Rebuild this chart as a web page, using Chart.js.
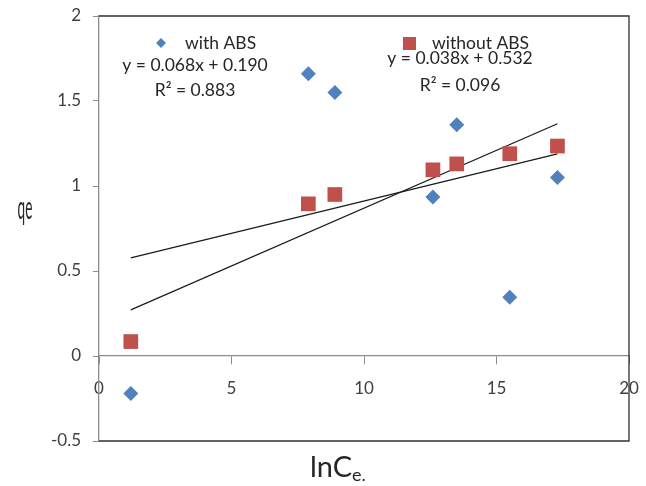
<!DOCTYPE html>
<html>
<head>
<meta charset="utf-8">
<script src="https://cdn.jsdelivr.net/npm/chart.js@4/dist/chart.umd.min.js"></script>
<style>
    html, body { margin: 0; padding: 0; background: #fff; }
    #wrap { width: 646px; height: 486px; }
</style>
</head>
<body>
<div id="wrap"><canvas id="chart" width="646" height="486"></canvas></div>
<script>
// data
const lnCe = [1.2, 7.9, 8.9, 12.6, 13.5, 15.5, 17.3];
const qeWithAbs = [-0.22, 1.66, 1.55, 0.935, 1.36, 0.345, 1.05];
const qeWithoutAbs = [0.085, 0.895, 0.95, 1.095, 1.13, 1.19, 1.235];

// trendline equations as printed on the chart
const slopes = [0.068, 0.038];
const intercepts = [0.190, 0.532];
const eqLabels = ['y = 0.068x + 0.190', 'y = 0.038x + 0.532'];
const r2Labels = ['R\u00B2 = 0.883', 'R\u00B2 = 0.096'];
const seriesNames = ['with ABS', 'without ABS'];

const xTicks = [0, 5, 10, 15, 20];
const yTicks = [-0.5, 0, 0.5, 1, 1.5, 2];

const BLUE = '#4F81BD';
const RED = '#C0504D';
const FONT = 'Lato, "Open Sans", sans-serif';

function points(ys) {
    return lnCe.map((x, i) => ({ x: x, y: ys[i] }));
}

function trend(k) {
    const x0 = Math.min(...lnCe), x1 = Math.max(...lnCe);
    return [
        { x: x0, y: slopes[k] * x0 + intercepts[k] },
        { x: x1, y: slopes[k] * x1 + intercepts[k] }
    ];
}

// frame, legend text, equations and axis titles
const decorations = {
    id: 'decorations',
    afterDraw(chart) {
        const ctx = chart.ctx;
        const a = chart.chartArea;
        ctx.save();
        ctx.strokeStyle = '#303030';
        ctx.lineWidth = 1.3;
        ctx.beginPath();
        ctx.moveTo(a.left, a.top);
        ctx.lineTo(a.right, a.top);
        ctx.lineTo(a.right, a.bottom);
        ctx.lineTo(a.left, a.bottom);
        ctx.stroke();

        // legend markers
        ctx.fillStyle = BLUE;
        ctx.beginPath();
        ctx.moveTo(161, 38); ctx.lineTo(166, 43); ctx.lineTo(161, 48); ctx.lineTo(156, 43);
        ctx.closePath();
        ctx.fill();
        ctx.fillStyle = RED;
        ctx.fillRect(403, 37, 13, 13);

        ctx.fillStyle = '#262626';
        ctx.font = '17.5px ' + FONT;
        ctx.textBaseline = 'middle';
        ctx.textAlign = 'left';
        ctx.fillText(seriesNames[0], 185, 43);
        ctx.fillText(seriesNames[1], 432, 43);
        ctx.textAlign = 'center';
        ctx.fillText(eqLabels[0], 195, 65);
        ctx.fillText(r2Labels[0], 195, 90);
        ctx.fillText(eqLabels[1], 460, 58);
        ctx.fillText(r2Labels[1], 460, 85);

        // y title, tall and narrow like the original
        ctx.save();
        ctx.translate(25, 209);
        ctx.scale(0.68, 1.6);
        ctx.font = '20px ' + FONT;
        ctx.fillText('qe', 0, 0);
        ctx.restore();

        // x title with subscript
        ctx.textAlign = 'left';
        ctx.textBaseline = 'alphabetic';
        ctx.font = '29px ' + FONT;
        const main = 'lnC';
        const w = ctx.measureText(main).width;
        ctx.fillText(main, 310, 477);
        ctx.font = '18px ' + FONT;
        ctx.fillText('e.', 310 + w, 481);
        ctx.restore();
    }
};

function noPad(s) {
    s.paddingLeft = 0; s.paddingRight = 0;
    s.paddingTop = 0; s.paddingBottom = 0;
}

const ctx = document.getElementById('chart').getContext('2d');
const chart = new Chart(ctx, {
    type: 'scatter',
    data: {
        datasets: [{
            label: seriesNames[0],
            data: points(qeWithAbs),
            pointStyle: 'rectRot',
            pointRadius: 7.5,
            backgroundColor: BLUE,
            borderColor: BLUE,
            borderWidth: 0
        }, {
            label: seriesNames[1],
            data: points(qeWithoutAbs),
            pointStyle: 'rect',
            pointRadius: 10.4,
            backgroundColor: RED,
            borderColor: RED,
            borderWidth: 0
        }, {
            type: 'line',
            label: 'trend with',
            data: trend(0),
            borderColor: '#1a1a1a',
            borderWidth: 1.2,
            pointRadius: 0,
            fill: false
        }, {
            type: 'line',
            label: 'trend without',
            data: trend(1),
            borderColor: '#1a1a1a',
            borderWidth: 1.2,
            pointRadius: 0,
            fill: false
        }]
    },
    options: {
        responsive: false,
        animation: false,
        layout: { padding: { top: 16, right: 17, bottom: 45, left: 0 } },
        plugins: {
            legend: { display: false },
            tooltip: { enabled: false }
        },
        scales: {
            x: {
                type: 'linear',
                position: { y: 0 },
                min: 0,
                max: 20,
                afterBuildTicks: s => { s.ticks = xTicks.map(v => ({ value: v })); },
                afterFit: noPad,
                grid: { drawOnChartArea: false, drawTicks: true, tickLength: 8, color: '#8c8c8c' },
                border: { display: true, color: '#8c8c8c', width: 1.3 },
                ticks: { color: '#404040', font: { size: 17, family: FONT }, padding: 14, maxRotation: 0,
                         callback: v => String(v) }
            },
            y: {
                type: 'linear',
                min: -0.5,
                max: 2,
                afterBuildTicks: s => { s.ticks = yTicks.map(v => ({ value: v })); },
                afterFit: s => { noPad(s); s.width = 99; },
                grid: { drawOnChartArea: false, drawTicks: true, tickLength: 6, color: '#8c8c8c' },
                border: { display: true, color: '#8c8c8c', width: 1.3 },
                ticks: { color: '#404040', font: { size: 17, family: FONT }, padding: 12,
                         callback: v => String(v) }
            }
        }
    },
    plugins: [decorations]
});
</script>
</body>
</html>
